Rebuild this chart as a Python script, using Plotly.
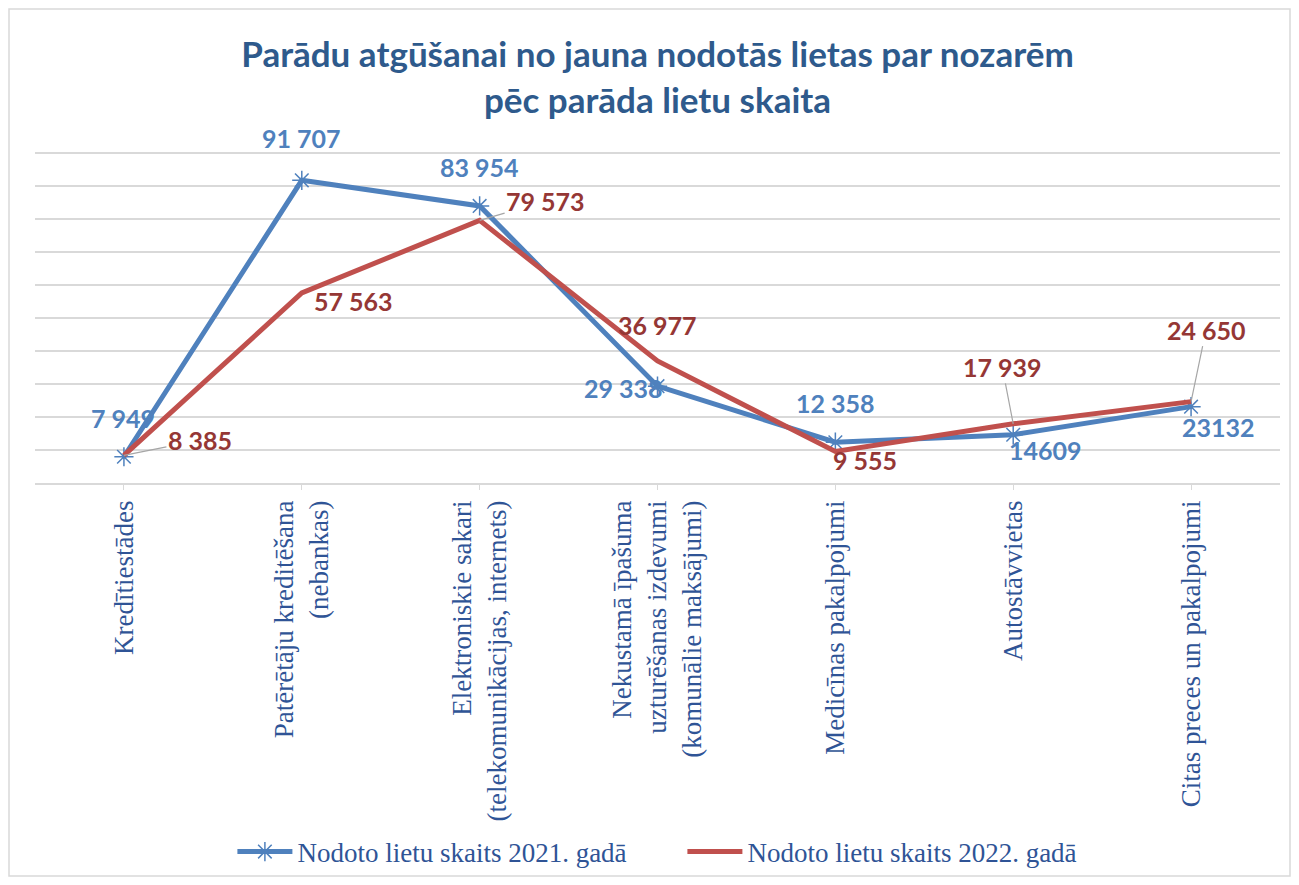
import plotly.graph_objects as go

categories = [
    "Kredītiestādes",
    "Patērētāju kreditēšana<br>(nebankas)",
    "Elektroniskie sakari<br>(telekomunikācijas, internets)",
    "Nekustamā īpašuma<br>uzturēšanas izdevumi<br>(komunālie maksājumi)",
    "Medicīnas pakalpojumi",
    "Autostāvvietas",
    "Citas preces un pakalpojumi",
]
series_2021 = [7949, 91707, 83954, 29338, 12358, 14609, 23132]
series_2022 = [8385, 57563, 79573, 36977, 9555, 17939, 24650]
labels_2021 = ["7 949", "91 707", "83 954", "29 338", "12 358", "14609", "23132"]
labels_2022 = ["8 385", "57 563", "79 573", "36 977", "9 555", "17 939", "24 650"]
name_2021 = "Nodoto lietu skaits 2021. gadā"
name_2022 = "Nodoto lietu skaits 2022. gadā"

BLUE = "#4F81BD"
RED = "#C0504D"
RED_TXT = "#953735"
AXIS_TXT = "#2F5496"
TITLE_C = "#2E5A8C"
GRID = "#D9D9D9"

x = list(range(len(categories)))

fig = go.Figure()
fig.add_trace(go.Scatter(
    x=x, y=series_2021, mode="lines+markers", name=name_2021,
    line=dict(color=BLUE, width=5),
    marker=dict(symbol="asterisk-open", size=16, color=BLUE, line=dict(color=BLUE, width=1.5)),
))
fig.add_trace(go.Scatter(
    x=x, y=series_2022, mode="lines", name=name_2022,
    line=dict(color=RED, width=5),
))

# label offsets in pixels: (dx, dy_up) / (dx, dy_up, leader line)
off_2021 = [(-1, 39), (0, 42), (0, 39), (-34, -2), (0, 39), (32, -15), (27, -20)]
off_2022 = [(76, 15, True), (52, -8, False), (66, 19, True), (0, 36, False),
            (30, -9, False), (-11, 57, True), (15, 72, True)]

lab_font = dict(family="Lato, Open Sans, sans-serif", size=25)
for i, (v, t, (dx, dy)) in enumerate(zip(series_2021, labels_2021, off_2021)):
    fig.add_annotation(x=i, y=v, text=f"<b>{t}</b>", showarrow=False,
                       xshift=dx, yshift=dy, font=dict(color=BLUE, **lab_font))
for i, (v, t, (dx, dy, lead)) in enumerate(zip(series_2022, labels_2022, off_2022)):
    if lead:
        fig.add_annotation(x=i, y=v, text=f"<b>{t}</b>", showarrow=True,
                           arrowhead=0, arrowwidth=1.2, arrowcolor="#A6A6A6",
                           ax=dx, ay=-dy, font=dict(color=RED_TXT, **lab_font))
    else:
        fig.add_annotation(x=i, y=v, text=f"<b>{t}</b>", showarrow=False,
                           xshift=dx, yshift=dy, font=dict(color=RED_TXT, **lab_font))

# page body has an 8px margin, so figure is 1283x869
W, H = 1283, 869
L, R, T, B = 27, 11, 140, 394
pw, ph = W - L - R, H - T - B

fig.add_shape(type="rect", xref="paper", yref="paper",
              x0=(1 - L) / pw, x1=(W - 1 - L) / pw,
              y0=(1 - B) / ph, y1=(H - 1 - B) / ph,
              line=dict(color=GRID, width=1.5), layer="below")

fig.update_layout(
    width=W, height=H,
    margin=dict(l=L, r=R, t=T, b=B),
    paper_bgcolor="white", plot_bgcolor="white",
    title=dict(
        text="<b>Parādu atgūšanai no jauna nodotās lietas par nozarēm<br>pēc parāda lietu skaita</b>",
        x=0.5, xref="paper", xanchor="center", y=1 - 59 / H, yanchor="top",
        font=dict(family="Lato, Open Sans, sans-serif", size=35, color=TITLE_C),
    ),
    showlegend=True,
    legend=dict(orientation="h", x=0.52, xanchor="center", xref="paper",
                y=(H - 844) / H, yref="container", yanchor="middle",
                bgcolor="rgba(0,0,0,0)",
                font=dict(family="Liberation Serif, Times New Roman, serif", size=27, color=AXIS_TXT),
                itemwidth=55, entrywidth=380, entrywidthmode="pixels", tracegroupgap=0),
    xaxis=dict(
        range=[-0.5, 6.5], tickmode="array", tickvals=x, ticktext=categories,
        tickangle=-90, showgrid=False, zeroline=False, automargin=False,
        showline=True, linecolor=GRID, linewidth=1.5,
        ticks="outside", ticklen=5, tickcolor=GRID,
        tickfont=dict(family="Liberation Serif, Times New Roman, serif", size=27, color=AXIS_TXT),
    ),
    yaxis=dict(
        range=[0, 101500], tick0=0, dtick=10000, showticklabels=False,
        showgrid=True, gridcolor=GRID, gridwidth=1.5, automargin=False,
        zeroline=False, showline=False,
    ),
)

fig.write_html("out.html")
